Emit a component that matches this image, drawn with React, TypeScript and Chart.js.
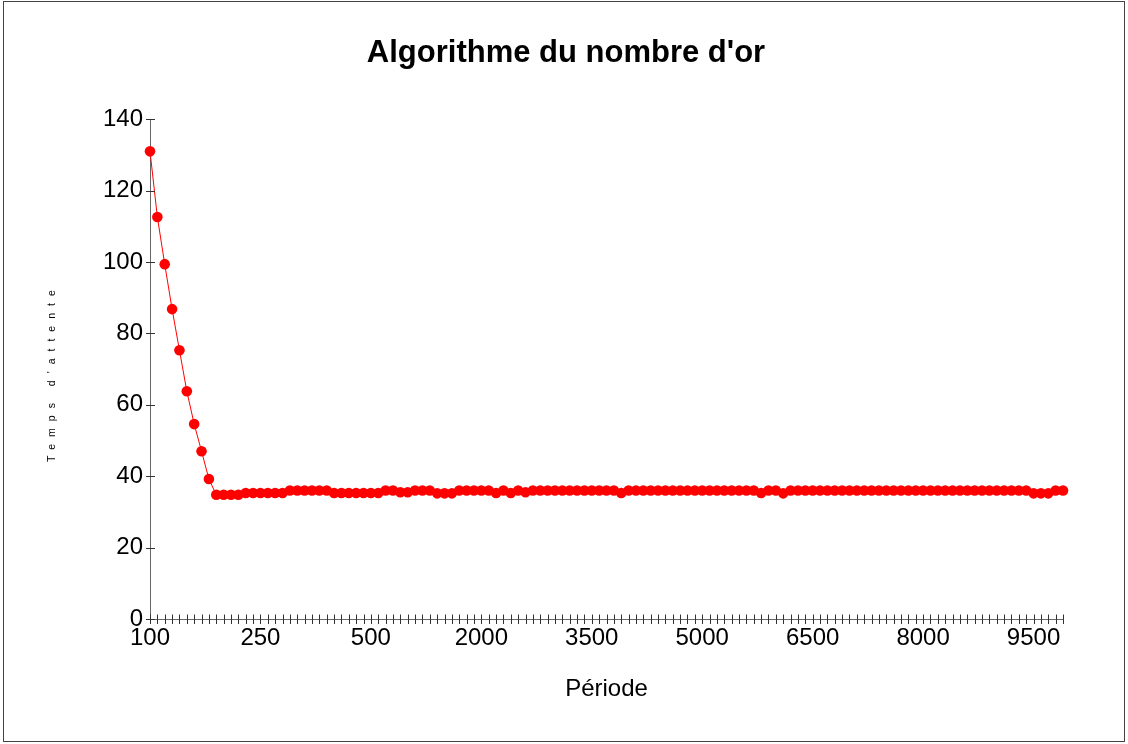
import React, { useEffect, useRef } from 'react';
import { Chart, registerables } from 'chart.js';

Chart.register(...registerables);

const TITLE = "Algorithme du nombre d'or";
const X_TITLE = 'Période';
const Y_TITLE = "Temps d'attente";

const periods = [
  100, 110, 120, 130, 140, 150, 160, 170, 180, 190, 200, 210, 220, 230, 240, 250,
  260, 270, 280, 290, 300, 320, 340, 360, 380, 400, 420, 440, 460, 480, 500,
  600, 700, 800, 900, 1000, 1100, 1200, 1300, 1400, 1500, 1600, 1700, 1800, 1900, 2000,
  2100, 2200, 2300, 2400, 2500, 2600, 2700, 2800, 2900, 3000, 3100, 3200, 3300, 3400, 3500,
  3600, 3700, 3800, 3900, 4000, 4100, 4200, 4300, 4400, 4500, 4600, 4700, 4800, 4900, 5000,
  5100, 5200, 5300, 5400, 5500, 5600, 5700, 5800, 5900, 6000, 6100, 6200, 6300, 6400, 6500,
  6600, 6700, 6800, 6900, 7000, 7100, 7200, 7300, 7400, 7500, 7600, 7700, 7800, 7900, 8000,
  8100, 8200, 8300, 8400, 8500, 8600, 8700, 8800, 8900, 9000, 9100, 9200, 9300, 9400, 9500,
  9600, 9700, 9800, 9900,
];

const waitTimes = [
  131.0, 112.6, 99.4, 86.8, 75.3, 63.8, 54.6, 47.0, 39.2,
  34.8, 34.8, 34.8, 34.8,
  35.3, 35.3, 35.3, 35.3, 35.3, 35.3,
  36.0, 36.0, 36.0, 36.0, 36.0, 36.0,
  35.3, 35.3, 35.3, 35.3, 35.3, 35.3, 35.3,
  36.0, 36.0,
  35.5, 35.5,
  36.0, 36.0, 36.0,
  35.2, 35.2, 35.2,
  36.0, 36.0, 36.0, 36.0, 36.0,
  35.3, 36.0, 35.3, 36.0, 35.5,
  36.0, 36.0, 36.0, 36.0, 36.0, 36.0, 36.0, 36.0, 36.0, 36.0, 36.0, 36.0,
  35.3,
  36.0, 36.0, 36.0, 36.0, 36.0, 36.0, 36.0, 36.0, 36.0, 36.0, 36.0, 36.0, 36.0, 36.0, 36.0, 36.0, 36.0, 36.0,
  35.3,
  36.0, 36.0,
  35.2,
  36.0, 36.0, 36.0, 36.0, 36.0, 36.0, 36.0, 36.0, 36.0, 36.0, 36.0,
  36.0, 36.0, 36.0, 36.0, 36.0, 36.0, 36.0, 36.0, 36.0, 36.0, 36.0,
  36.0, 36.0, 36.0, 36.0, 36.0, 36.0, 36.0, 36.0, 36.0, 36.0, 36.0,
  35.2, 35.2, 35.2,
  36.0, 36.0,
];

const Y_MIN = 0;
const Y_MAX = 140;
const Y_STEP = 20;
const LABEL_EVERY = 15;

const FONT = '"Liberation Sans", Arial, sans-serif';

const decorPlugin = {
  id: 'decor',
  afterDraw(chart: any) {
    const ctx = chart.ctx as CanvasRenderingContext2D;
    const xs = chart.scales.x;
    const ys = chart.scales.y;
    const area = chart.chartArea;
    ctx.save();
    ctx.strokeStyle = '#333';
    ctx.lineWidth = 1;
    ctx.beginPath();
    xs.ticks.forEach((_: any, i: number) => {
      const px = Math.round(xs.getPixelForTick(i)) + 0.5;
      ctx.moveTo(px, area.bottom - 4.5);
      ctx.lineTo(px, area.bottom + 5);
    });
    ys.ticks.forEach((_: any, i: number) => {
      const py = Math.round(ys.getPixelForTick(i)) + 0.5;
      ctx.moveTo(area.left - 4, py);
      ctx.lineTo(area.left + 5, py);
    });
    ctx.stroke();

    // y axis title with spaced letters
    ctx.save();
    ctx.translate(52, (area.top + area.bottom) / 2 + 3.5);
    ctx.rotate(-Math.PI / 2);
    ctx.font = '10.5px ' + FONT;
    (ctx as any).letterSpacing = '7px';
    ctx.textAlign = 'center';
    ctx.textBaseline = 'middle';
    ctx.fillStyle = '#000';
    ctx.fillText(Y_TITLE, 0, 0);
    ctx.restore();

    // frame
    ctx.strokeStyle = '#444';
    ctx.lineWidth = 1;
    ctx.strokeRect(3.5, 1.5, 1121, 740);
    ctx.restore();
  },
};

export default function App() {
  const ref = useRef<HTMLCanvasElement | null>(null);

  useEffect(() => {
    document.body.style.margin = '0';
    const canvas = ref.current;
    if (!canvas) return;
    const chart = new Chart(canvas, {
      type: 'line',
      data: {
        labels: periods.map(String),
        datasets: [
          {
            data: waitTimes,
            borderColor: '#ff0000',
            backgroundColor: '#ff0000',
            borderWidth: 1,
            pointRadius: 5.3,
            pointBorderWidth: 0,
            pointBackgroundColor: '#ff0000',
            tension: 0,
            clip: false as any,
          },
        ],
      },
      options: {
        animation: false,
        responsive: false,
        events: [],
        layout: { padding: { left: 4, right: 0, top: 0, bottom: 0 } },
        plugins: {
          legend: { display: false },
          tooltip: { enabled: false },
          title: {
            display: true,
            text: TITLE,
            color: '#000',
            font: { family: FONT, size: 31, weight: 'bold' },
            padding: { top: 35, bottom: 47 },
          },
        },
        scales: {
          x: {
            type: 'category',
            offset: false,
            grid: { display: true, drawOnChartArea: false, drawTicks: false },
            border: { display: true, color: '#666', width: 1 },
            ticks: {
              autoSkip: false,
              maxRotation: 0,
              minRotation: 0,
              padding: 5,
              color: '#000',
              font: { family: FONT, size: 24 },
              callback: (_v: any, i: number) => (i % LABEL_EVERY === 0 ? periods[i].toString() : ''),
            },
            title: {
              display: true,
              text: X_TITLE,
              color: '#000',
              font: { family: FONT, size: 24 },
              padding: { top: 0, bottom: 40 },
            },
            afterFit: (s: any) => {
              s.height = 125;
            },
          },
          y: {
            min: Y_MIN,
            max: Y_MAX,
            grid: { display: true, drawOnChartArea: false, drawTicks: false },
            border: { display: true, color: '#666', width: 1 },
            ticks: {
              stepSize: Y_STEP,
              padding: 7,
              color: '#000',
              font: { family: FONT, size: 24 },
            },
            afterFit: (s: any) => {
              s.width = 146;
            },
          },
          spacer: {
            type: 'linear',
            position: 'right',
            display: true,
            grid: { display: false, drawTicks: false },
            border: { display: false },
            ticks: { display: false },
            afterFit: (s: any) => {
              s.width = 65;
            },
          },
        },
      },
      plugins: [decorPlugin],
    });
    return () => chart.destroy();
  }, []);

  return <canvas ref={ref} width={1128} height={744} style={{ display: 'block', width: 1128, height: 744 }} />;
}
